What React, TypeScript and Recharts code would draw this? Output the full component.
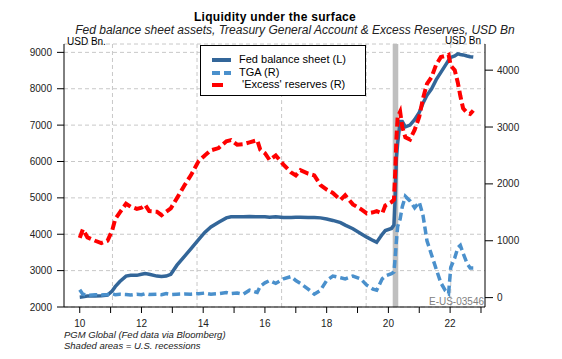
import React from "react";
import {
  CartesianGrid,
  ComposedChart,
  Line,
  ReferenceArea,
  ReferenceLine,
  XAxis,
  YAxis,
} from "recharts";

// decimal years (10 = 2010)
const years = [
  10.0, 10.1, 10.25, 10.5, 10.7, 10.9, 11.05, 11.15, 11.3, 11.5, 11.65, 11.85,
  12.0, 12.12, 12.25, 12.5, 12.65, 12.8, 12.95, 13.15, 13.4, 13.6, 13.85, 14.05,
  14.25, 14.5, 14.75, 14.9, 15.1, 15.3, 15.5, 15.75, 15.85, 16.0, 16.15, 16.35,
  16.6, 16.85, 17.0, 17.15, 17.4, 17.6, 17.8, 18.0, 18.2, 18.45, 18.6, 18.85,
  19.1, 19.3, 19.5, 19.62, 19.8, 19.9, 20.1, 20.18, 20.22, 20.26, 20.3, 20.38,
  20.45, 20.55, 20.7, 20.85, 21.0, 21.12, 21.25, 21.4, 21.55, 21.7, 21.85, 21.95,
  22.02, 22.15, 22.25, 22.33, 22.42, 22.55, 22.65, 22.75,
];

// USD bn, left axis
const fedBalance = [
  2270, 2280, 2300, 2300, 2310, 2330, 2440, 2560, 2700, 2850, 2870, 2870,
  2900, 2920, 2900, 2850, 2840, 2850, 2900, 3150, 3400, 3600, 3850, 4050,
  4200, 4330, 4450, 4480, 4480, 4480, 4490, 4480, 4480, 4480, 4470, 4480,
  4460, 4460, 4470, 4470, 4460, 4460, 4450, 4420, 4380, 4320, 4250, 4150,
  4020, 3920, 3830, 3780, 4000, 4100, 4160, 4250, 5000, 6100, 6500, 7100,
  7100, 6950, 7000, 7150, 7350, 7600, 7820, 8000, 8250, 8450, 8650, 8780,
  8860, 8900, 8960, 8940, 8930, 8900, 8880, 8870,
];

// USD bn, right axis
const tgaBalance = [
  140, 60, 40, 50, 45, 55, 70, 50, 60, 55, 45, 60,
  50, 70, 55, 60, 50, 70, 55, 60, 65, 60, 70, 80,
  60, 70, 90, 70, 80, 60, 130, 90, 200, 260, 300, 250,
  330, 370, 300, 250, 150, 60, 130, 300, 380, 350, 330, 380,
  330, 220, 150, 130, 330, 380, 420, 450, 700, 1000, 1250, 1380,
  1600, 1780, 1700, 1580, 1680, 1450, 1000, 750, 500, 260, 120, 70,
  530, 700, 880, 920, 780, 600, 520, 520,
];

// USD bn, right axis
const excessReserves = [
  1050, 1200, 1060, 1000, 960, 1000, 1180, 1380, 1500, 1650, 1600, 1560,
  1580, 1630, 1520, 1510, 1450, 1510, 1570, 1750, 1980, 2150, 2400, 2500,
  2590, 2630, 2750, 2770, 2690, 2700, 2730, 2770, 2600, 2540, 2420, 2500,
  2340, 2200, 2150, 2240, 2180, 2150, 1980, 1900, 1840, 1720, 1800, 1640,
  1560, 1480, 1500, 1520, 1480, 1620, 1680, 1720, 2200, 2800, 3180, 3270,
  3000, 2820, 2780, 2950, 3180, 3500, 3760, 3880, 4100, 4230, 4250, 4270,
  4080, 4000, 3780, 3550, 3330, 3250, 3230, 3290,
];

const xTicks = [10, 11, 12, 13, 14, 15, 16, 17, 18, 19, 20, 21, 22, 23];
const leftTicks = [2000, 3000, 4000, 5000, 6000, 7000, 8000, 9000];
const rightTicks = [0, 1000, 2000, 3000, 4000];
const gridYears = [11.06, 13.8, 16.54, 19.28, 22.02];
const recession = [20.14, 20.32];

const FED = "#336699";
const TGA = "#4a90cc";
const EXCESS = "#ff0000";
const FONT = "'Liberation Sans', Arial, sans-serif";

const data = years.map((year, i) => ({
  year,
  fed: fedBalance[i],
  tga: tgaBalance[i],
  excess: excessReserves[i],
}));

function Txt({
  x,
  y,
  size,
  children,
  center,
  right,
  bold,
  italic,
  spacing,
  color = "#000",
}: {
  x: number;
  y: number;
  size: number;
  children: React.ReactNode;
  center?: boolean;
  right?: boolean;
  bold?: boolean;
  italic?: boolean;
  spacing?: number;
  color?: string;
}) {
  const lh = Math.round(size * 0.85);
  return (
    <div
      style={{
        position: "absolute",
        left: x,
        top: y - lh / 2,
        fontSize: size,
        lineHeight: `${lh}px`,
        fontFamily: FONT,
        fontWeight: bold ? "bold" : "normal",
        fontStyle: italic ? "italic" : "normal",
        letterSpacing: spacing,
        color,
        whiteSpace: "nowrap",
        transform: center ? "translateX(-50%)" : right ? "translateX(-100%)" : undefined,
      }}
    >
      {children}
    </div>
  );
}

function LegendBox() {
  const rows = [
    { label: "Fed balance sheet (L)", color: FED, dash: undefined, len: 19, top: 59 },
    { label: "TGA (R)", color: TGA, dash: "8 4", len: 19, top: 71.5 },
    { label: " 'Excess' reserves (R)", color: EXCESS, dash: undefined, len: 11, top: 84 },
  ];
  return (
    <div
      style={{
        position: "absolute",
        left: 200,
        top: 45,
        width: 164,
        height: 49,
        border: "1px solid #000",
        background: "#fff",
      }}
    >
      {rows.map((r) => (
        <React.Fragment key={r.label}>
          <svg
            width={24}
            height={6}
            style={{ position: "absolute", left: 10, top: r.top - 45 - 3 }}
          >
            <line
              x1={1}
              x2={1 + r.len}
              y1={3}
              y2={3}
              stroke={r.color}
              strokeWidth={4}
              strokeDasharray={r.dash}
            />
          </svg>
          <div
            style={{
              position: "absolute",
              left: 38,
              top: r.top - 45 - 6,
              fontSize: 11,
              lineHeight: "11px",
              fontFamily: FONT,
              whiteSpace: "pre",
            }}
          >
            {r.label}
          </div>
        </React.Fragment>
      ))}
    </div>
  );
}

export default function App() {
  const tickStyle = { fontSize: 10, fill: "#222", fontFamily: FONT };
  return (
    <div
      style={{
        position: "absolute",
        left: 0,
        top: 0,
        width: 562,
        height: 359,
        background: "#fff",
        overflow: "hidden",
      }}
    >
      <ComposedChart
        width={562}
        height={359}
        data={data}
        margin={{ top: 44, right: 0, bottom: 22, left: 4 }}
      >
        <CartesianGrid
          yAxisId="left"
          vertical={false}
          stroke="#c8c8c8"
          strokeDasharray="4 3"
        />
        {gridYears.map((g) => (
          <ReferenceLine
            key={g}
            x={g}
            yAxisId="left"
            stroke="#c8c8c8"
            strokeDasharray="4 3"
          />
        ))}
        <ReferenceArea
          x1={recession[0]}
          x2={recession[1]}
          yAxisId="left"
          fill="#bfbfbf"
          fillOpacity={1}
          stroke="none"
        />
        <XAxis
          dataKey="year"
          type="number"
          domain={[9.49, 23.13]}
          allowDataOverflow
          ticks={xTicks}
          interval={0}
          tickFormatter={(v: number) => (v % 2 === 0 ? String(v) : "")}
          tickSize={6}
          tickMargin={7}
          height={30}
          axisLine={{ stroke: "#000" }}
          tickLine={{ stroke: "#000" }}
          tick={tickStyle}
        />
        <YAxis
          yAxisId="left"
          domain={[2000, 9230]}
          allowDataOverflow
          ticks={leftTicks}
          interval={0}
          width={60}
          tickSize={7}
          tickMargin={5}
          axisLine={{ stroke: "#000" }}
          tickLine={{ stroke: "#000" }}
          tick={tickStyle}
        />
        <YAxis
          yAxisId="right"
          orientation="right"
          domain={[-165, 4460]}
          allowDataOverflow
          ticks={rightTicks}
          interval={0}
          width={77}
          tickSize={8}
          tickMargin={4}
          axisLine={{ stroke: "#000" }}
          tickLine={{ stroke: "#000" }}
          tick={tickStyle}
        />
        <Line
          yAxisId="left"
          dataKey="fed"
          type="linear"
          stroke={FED}
          strokeWidth={3.5}
          dot={false}
          isAnimationActive={false}
        />
        <Line
          yAxisId="right"
          dataKey="tga"
          type="linear"
          stroke={TGA}
          strokeWidth={3.5}
          strokeDasharray="8 4"
          dot={false}
          isAnimationActive={false}
        />
        <Line
          yAxisId="right"
          dataKey="excess"
          type="linear"
          stroke={EXCESS}
          strokeWidth={4}
          strokeDasharray="9 4"
          dot={false}
          isAnimationActive={false}
        />
      </ComposedChart>

      <Txt x={275} y={17} size={12} bold center spacing={0.3}>
        Liquidity under the surface
      </Txt>
      <Txt x={295} y={29.5} size={12} italic center color="#222">
        Fed balance sheet assets, Treasury General Account &amp; Excess Reserves, USD Bn
      </Txt>
      <Txt x={67} y={41.5} size={10}>
        USD Bn.
      </Txt>
      <Txt x={481} y={40.5} size={10} right>
        USD Bn
      </Txt>
      <Txt x={484} y={301.5} size={10} right color="#808080">
        E-US-03546
      </Txt>
      <Txt x={64} y={335} size={9.5} italic color="#222">
        PGM Global (Fed data via Bloomberg)
      </Txt>
      <Txt x={64} y={346} size={9.5} italic color="#222">
        Shaded areas = U.S. recessions
      </Txt>
      <LegendBox />
    </div>
  );
}
